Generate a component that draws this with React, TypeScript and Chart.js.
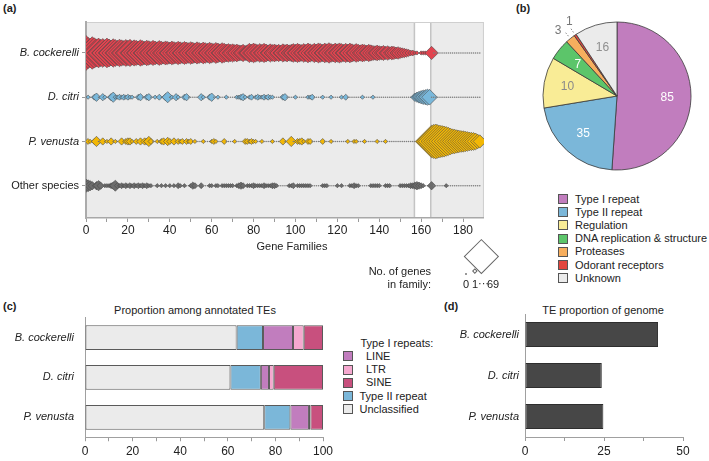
import React, { useEffect, useRef } from 'react';
import { Chart, registerables } from 'chart.js';

Chart.register(...registerables);

const FONT = "'Liberation Sans', Arial, Helvetica, sans-serif";
Chart.defaults.font.family = FONT;
Chart.defaults.color = '#222';

// ---------------- (a) gene families ----------------
const speciesRows = ['B. cockerelli', 'D. citri', 'P. venusta', 'Other species'];
const speciesItalic = [true, true, true, false];
const speciesColors = ['#E2434F', '#79B8DB', '#F2B705', '#6C6C6C'];
const familyTickLabels = [0, 20, 40, 60, 80, 100, 120, 140, 160, 180];
const citriSpecificBand = [156.8, 164.6];
const sizeLegendCounts = [0, 1, 69];

const bCockerelliGenes = [
  69, 55, 48, 60, 52, 45, 50, 42, 47, 40,
  50, 44, 38, 46, 41, 36, 43, 39, 35, 41,
  37, 42, 34, 39, 36, 33, 40, 35, 31, 37,
  34, 30, 36, 32, 29, 35, 31, 28, 33, 30,
  27, 32, 29, 26, 31, 28, 25, 30, 27, 24,
  29, 26, 23, 28, 25, 22, 27, 24, 21, 26,
  23, 20, 25, 22, 19, 24, 21, 18, 20, 17,
  19, 16, 18, 15, 14, 17, 13, 15, 21, 18,
  22, 19, 16, 20, 17, 21, 18, 15, 19, 16,
  18, 15, 17, 14, 19, 16, 18, 15, 17, 20,
  17, 21, 18, 16, 20, 17, 22, 19, 16, 21,
  18, 23, 20, 17, 22, 19, 24, 20, 18, 22,
  19, 23, 20, 17, 21, 18, 22, 19, 16, 20,
  17, 15, 18, 16, 14, 17, 15, 13, 12, 14,
  12, 11, 13, 10, 12, 9, 11, 10, 8, 9,
  7, 6, 5, 4, 3, 2, 2, 1, 1, 0,
  1, 1, 1, 0, 0, 10, 0, 0, 0, 0,
  0, 0, 0, 0, 0, 0, 0, 0, 0, 0,
  0, 0, 0, 0, 0, 0, 0, 0, 0,
];

const dCitriGenes = [
  0, 1, 0, 0, 2, 4, 0, 0, 3, 1,
  0, 0, 3, 6, 1, 1, 2, 1, 2, 1,
  2, 1, 1, 0, 0, 2, 3, 0, 0, 2,
  3, 0, 0, 1, 0, 2, 0, 0, 3, 7,
  0, 1, 0, 3, 1, 0, 0, 2, 3, 0,
  0, 0, 0, 0, 0, 3, 1, 0, 0, 2,
  4, 0, 0, 1, 0, 0, 0, 1, 0, 0,
  0, 0, 1, 1, 2, 3, 1, 0, 1, 2,
  0, 1, 2, 1, 1, 2, 1, 2, 1, 1,
  0, 0, 0, 0, 2, 3, 0, 0, 0, 0,
  1, 0, 0, 0, 0, 0, 1, 1, 2, 0,
  0, 0, 0, 1, 0, 0, 0, 1, 0, 0,
  0, 0, 1, 0, 2, 0, 0, 0, 0, 0,
  0, 0, 1, 0, 0, 0, 0, 1, 0, 0,
  0, 0, 0, 0, 0, 0, 0, 0, 0, 0,
  0, 0, 0, 0, 0, 0, 0, 4, 6, 8,
  10, 12, 13, 15, 14, 0, 0, 0, 0, 0,
  0, 0, 0, 0, 0, 0, 0, 0, 0, 0,
  0, 0, 0, 0, 0, 0, 0, 0, 0,
];

const pVenustaGenes = [
  0, 2, 1, 0, 2, 6, 0, 0, 3, 0,
  1, 0, 3, 0, 1, 0, 0, 3, 0, 2,
  3, 3, 1, 0, 2, 0, 3, 0, 3, 2,
  6, 2, 0, 0, 1, 0, 2, 3, 0, 4,
  2, 0, 3, 0, 2, 1, 2, 0, 2, 1,
  2, 0, 1, 0, 0, 0, 1, 0, 0, 0,
  1, 2, 1, 0, 0, 0, 2, 0, 0, 0,
  0, 1, 0, 0, 0, 0, 2, 2, 1, 2,
  1, 1, 0, 0, 1, 0, 0, 0, 0, 1,
  0, 0, 0, 0, 3, 0, 0, 0, 6, 0,
  0, 2, 2, 3, 1, 0, 2, 2, 0, 0,
  0, 0, 0, 2, 0, 0, 0, 1, 0, 0,
  0, 0, 0, 0, 0, 1, 0, 0, 1, 1,
  0, 0, 0, 1, 0, 0, 0, 0, 0, 1,
  0, 0, 0, 1, 0, 0, 0, 0, 0, 0,
  0, 0, 0, 0, 0, 0, 0, 0, 0, 0,
  0, 0, 0, 0, 0, 60, 66, 69, 64, 60,
  57, 54, 50, 45, 40, 36, 34, 31, 29, 27,
  26, 24, 22, 20, 19, 18, 16, 12, 10,
];

const otherSpeciesGenes = [
  10, 8, 6, 4, 0, 4, 6, 3, 0, 1,
  1, 1, 2, 3, 7, 2, 1, 2, 1, 2,
  1, 2, 1, 2, 1, 2, 1, 2, 1, 2,
  1, 1, 0, 0, 1, 0, 1, 0, 1, 0,
  1, 0, 1, 0, 2, 1, 0, 1, 0, 0,
  1, 3, 2, 0, 0, 2, 0, 0, 0, 1,
  1, 0, 1, 1, 0, 1, 1, 1, 1, 1,
  1, 0, 1, 2, 3, 2, 0, 1, 1, 1,
  2, 1, 1, 1, 1, 2, 1, 1, 1, 2,
  2, 1, 0, 0, 0, 0, 0, 1, 1, 2,
  0, 1, 1, 1, 1, 1, 1, 1, 0, 0,
  0, 0, 0, 1, 1, 1, 0, 0, 0, 0,
  1, 0, 1, 0, 0, 0, 1, 1, 2, 1,
  1, 0, 0, 0, 0, 0, 1, 1, 1, 1,
  1, 0, 0, 1, 1, 1, 0, 0, 0, 0,
  1, 1, 1, 1, 1, 2, 2, 3, 4, 3,
  2, 1, 0, 0, 0, 4, 0, 0, 0, 0,
  0, 0, 1, 0, 0, 0, 0, 0, 0, 0,
  0, 0, 0, 0, 0, 0, 0, 0, 0,
];

const speciesGenes = [bCockerelliGenes, dCitriGenes, pVenustaGenes, otherSpeciesGenes];

// ---------------- (b) pie ----------------
const pieCategories = ['Type I repeat', 'Type II repeat', 'Regulation', 'DNA replication & structure', 'Proteases', 'Odorant receptors', 'Unknown'];
const pieShares = [51.1, 21.3, 11.1, 4.6, 2.1, 0.5, 9.3];
const pieCounts = [85, 35, 10, 7, 3, 1, 16];
const pieColors = ['#C17DBE', '#7BB7D9', '#F9EC96', '#5CC56A', '#F7AE5E', '#E2463E', '#EBEBEB'];
const pieLabelColors = ['#ffffff', '#ffffff', '#8a8a8a', '#ffffff', '#777777', '#777777', '#8f8f8f'];
const pieLabelOutside = [false, false, false, false, true, true, false];
const pieLabelNudgeDeg = [0, 0, 0, 0, -3, 1.5, 0];

// ---------------- (c) TE composition ----------------
const teSpecies = ['B. cockerelli', 'D. citri', 'P. venusta'];
const teClasses = ['Unclassified', 'Type II repeat', 'LINE', 'LTR', 'SINE'];
const unclassifiedPct = [63.7, 61.1, 75.3];
const typeIIPct = [11.1, 12.8, 11.0];
const linePct = [12.6, 3.4, 7.8];
const ltrPct = [4.5, 2.0, 0.6];
const sinePct = [8.1, 20.7, 5.3];
const teValues = [unclassifiedPct, typeIIPct, linePct, ltrPct, sinePct];
const teColors = ['#EBEBEB', '#7BB7D9', '#C17DBE', '#F5A8CF', '#C8507E'];
const pctTickLabels = [0, 20, 40, 60, 80, 100];

// ---------------- (d) genome proportion ----------------
const genomeTEPct = [42.1, 24.3, 24.8];
const genomeTickLabels = [0, 25, 50];

// ------------------------------------------------------
const geneCount = (c: any) => (c && c.raw && typeof c.raw.n === 'number' ? c.raw.n : 0);
const diamondRadius = (n: number) => (n > 0 ? 2.1 * Math.sqrt(n) : 0.8);

const bgPluginA = {
  id: 'bgA',
  beforeDraw(chart: any) {
    const { ctx, chartArea: a, scales } = chart;
    const x = scales.x;
    ctx.save();
    ctx.fillStyle = '#EBEBEB';
    ctx.fillRect(a.left, a.top, a.right - a.left, a.bottom - a.top);
    const x0 = x.getPixelForValue(citriSpecificBand[0]);
    const x1 = x.getPixelForValue(citriSpecificBand[1]);
    ctx.fillStyle = '#FFFFFF';
    ctx.fillRect(x0, a.top, x1 - x0, a.bottom - a.top);
    ctx.strokeStyle = '#C4C4C4';
    ctx.lineWidth = 1.5;
    ctx.beginPath();
    ctx.moveTo(x0, a.top); ctx.lineTo(x0, a.bottom);
    ctx.moveTo(x1, a.top); ctx.lineTo(x1, a.bottom);
    ctx.stroke();
    ctx.lineWidth = 1;
    ctx.strokeStyle = '#CFCFCF';
    ctx.beginPath();
    ctx.moveTo(a.left, a.top + 0.5); ctx.lineTo(a.right, a.top + 0.5);
    ctx.moveTo(a.right - 0.5, a.top); ctx.lineTo(a.right - 0.5, a.bottom);
    ctx.stroke();
    ctx.restore();
  },
};

function makeGeneFamilyChart(): any {
  return {
    type: 'scatter',
    data: {
      datasets: speciesGenes.map((counts, i) => ({
        label: speciesRows[i],
        data: counts.map((n, f) => ({ x: f, y: i, n })),
        pointStyle: (c: any) => (geneCount(c) > 0 ? 'rectRot' : 'circle'),
        pointRadius: (c: any) => diamondRadius(geneCount(c)),
        pointHoverRadius: (c: any) => diamondRadius(geneCount(c)),
        pointBackgroundColor: (c: any) => (geneCount(c) > 0 ? speciesColors[i] : '#7E7E7E'),
        pointBorderColor: (c: any) => (geneCount(c) > 0 ? '#4A4A4A' : '#7E7E7E'),
        pointBorderWidth: (c: any) => (geneCount(c) > 0 ? 0.6 : 0),
        showLine: false,
      })),
    },
    options: {
      responsive: false,
      animation: false,
      devicePixelRatio: 1,
      events: [],
      layout: { padding: { top: 22, right: 3, left: 0, bottom: 0 } },
      plugins: { legend: { display: false }, tooltip: { enabled: false } },
      scales: {
        x: {
          type: 'linear',
          min: 0,
          max: 190,
          afterBuildTicks: (s: any) => {
            s.ticks = s.ticks.filter((t: any) => t.value <= familyTickLabels[familyTickLabels.length - 1]);
          },
          ticks: {
            stepSize: 10,
            autoSkip: false,
            maxRotation: 0,
            padding: 1,
            color: '#222',
            font: { size: 12 },
            callback: (v: any) => (familyTickLabels.includes(v) ? String(v) : ''),
          },
          grid: { drawOnChartArea: false, tickLength: 4, tickColor: '#9A9A9A' },
          border: { color: '#A8A8A8', width: 1.5 },
          afterFit: (s: any) => { s.height = 44; },
        },
        y: {
          type: 'linear',
          reverse: true,
          min: -0.7,
          max: 3.73,
          afterBuildTicks: (s: any) => {
            s.ticks = speciesRows.map((_, i) => ({ value: i }));
          },
          ticks: {
            autoSkip: false,
            padding: 3,
            color: '#222',
            font: (c: any) => ({ size: 11, family: FONT, style: speciesItalic[c.index] ? 'italic' : 'normal' }),
            callback: (v: any) => speciesRows[v] ?? '',
          },
          grid: { drawOnChartArea: false, tickLength: 4, tickColor: '#9A9A9A' },
          border: { color: '#ABABAB', width: 2 },
          afterFit: (s: any) => { s.width = 86; },
        },
      },
    },
    plugins: [bgPluginA],
  };
}

const pieLabelPlugin = {
  id: 'pieLabels',
  afterDatasetsDraw(chart: any) {
    const ctx = chart.ctx;
    const arcs = chart.getDatasetMeta(0).data;
    ctx.save();
    ctx.font = `12px ${FONT}`;
    ctx.textAlign = 'center';
    ctx.textBaseline = 'middle';
    arcs.forEach((arc: any, i: number) => {
      const p = arc.getProps(['x', 'y', 'startAngle', 'endAngle', 'outerRadius'], true);
      const mid = (p.startAngle + p.endAngle) / 2;
      const R = p.outerRadius;
      if (pieLabelOutside[i]) {
        ctx.strokeStyle = '#8A8A8A';
        ctx.lineWidth = 1;
        ctx.setLineDash([1.5, 1.5]);
        ctx.beginPath();
        ctx.moveTo(p.x + Math.cos(mid) * (R + 3), p.y + Math.sin(mid) * (R + 3));
        ctx.lineTo(p.x + Math.cos(mid) * (R + 9), p.y + Math.sin(mid) * (R + 9));
        ctx.stroke();
        ctx.setLineDash([]);
        const la = mid + (pieLabelNudgeDeg[i] * Math.PI) / 180;
        ctx.fillStyle = pieLabelColors[i];
        ctx.fillText(String(pieCounts[i]), p.x + Math.cos(la) * (R + 14), p.y + Math.sin(la) * (R + 14));
      } else {
        ctx.fillStyle = pieLabelColors[i];
        ctx.fillText(String(pieCounts[i]), p.x + Math.cos(mid) * R * 0.68, p.y + Math.sin(mid) * R * 0.68);
      }
    });
    ctx.restore();
  },
};

function makePieChart(): any {
  return {
    type: 'pie',
    data: {
      labels: pieCategories,
      datasets: [{
        data: pieShares,
        backgroundColor: pieColors,
        borderColor: '#3A3A3A',
        borderWidth: 0.8,
        radius: 74,
      }],
    },
    options: {
      responsive: false,
      animation: false,
      devicePixelRatio: 1,
      events: [],
      layout: { padding: { left: 4, top: 2, right: 0, bottom: 0 } },
      plugins: { legend: { display: false }, tooltip: { enabled: false } },
    },
    plugins: [pieLabelPlugin],
  };
}

function makeTEChart(): any {
  return {
    type: 'bar',
    data: {
      labels: teSpecies,
      datasets: teClasses.map((name, k) => ({
        label: name,
        data: teValues[k],
        backgroundColor: teColors[k],
        borderColor: '#5A5A5A',
        borderWidth: 1,
        borderSkipped: false,
        barPercentage: 0.62,
        categoryPercentage: 1,
      })),
    },
    options: {
      indexAxis: 'y',
      responsive: false,
      animation: false,
      devicePixelRatio: 1,
      events: [],
      layout: { padding: { top: 15.75, right: 17, left: 0, bottom: 0 } },
      plugins: { legend: { display: false }, tooltip: { enabled: false } },
      scales: {
        x: {
          stacked: true,
          min: 0,
          max: 100,
          ticks: {
            stepSize: 10,
            autoSkip: false,
            maxRotation: 0,
            padding: 3.5,
            color: '#222',
            font: { size: 12 },
            callback: (v: any) => (pctTickLabels.includes(v) ? String(v) : ''),
          },
          grid: { drawOnChartArea: false, tickLength: 4, tickColor: '#9A9A9A' },
          border: { color: '#A0A0A0', width: 1 },
          afterFit: (s: any) => { s.height = 23.75; },
        },
        y: {
          stacked: true,
          ticks: { padding: 11, color: '#222', font: { size: 11, style: 'italic' } },
          grid: { drawOnChartArea: false, drawTicks: false },
          border: { color: '#A0A0A0', width: 1 },
          afterFit: (s: any) => { s.width = 85; },
        },
      },
    },
  };
}

function makeGenomeChart(): any {
  return {
    type: 'bar',
    data: {
      labels: teSpecies,
      datasets: [{
        label: 'TE proportion of genome',
        data: genomeTEPct,
        backgroundColor: '#474747',
        borderColor: '#2E2E2E',
        borderWidth: 1,
        borderSkipped: false,
        barPercentage: 0.61,
        categoryPercentage: 1,
      }],
    },
    options: {
      indexAxis: 'y',
      responsive: false,
      animation: false,
      devicePixelRatio: 1,
      events: [],
      layout: { padding: { top: 14, right: 26, left: 0, bottom: 0 } },
      plugins: { legend: { display: false }, tooltip: { enabled: false } },
      scales: {
        x: {
          min: 0,
          max: 50,
          ticks: {
            stepSize: 12.5,
            autoSkip: false,
            maxRotation: 0,
            padding: 3.5,
            color: '#222',
            font: { size: 12 },
            callback: (v: any) => (genomeTickLabels.includes(v) ? String(v) : ''),
          },
          grid: { drawOnChartArea: false, tickLength: 4, tickColor: '#9A9A9A' },
          border: { color: '#A0A0A0', width: 1 },
          afterFit: (s: any) => { s.height = 24; },
        },
        y: {
          ticks: { padding: 6, color: '#222', font: { size: 11, style: 'italic' } },
          grid: { drawOnChartArea: false, drawTicks: false },
          border: { color: '#A0A0A0', width: 1 },
          afterFit: (s: any) => { s.width = 85; },
        },
      },
    },
  };
}

function ChartCanvas({ left, top, width, height, make }: any) {
  const ref = useRef<HTMLCanvasElement | null>(null);
  useEffect(() => {
    const chart = new Chart(ref.current as HTMLCanvasElement, make());
    return () => chart.destroy();
  }, []);
  return (
    <canvas
      ref={ref}
      width={width}
      height={height}
      style={{ position: 'absolute', left, top, width, height }}
    />
  );
}

function Txt({ x, y, children, align = 'left', size = 11, bold = false, italic = false, color = '#222' }: any) {
  const tx = align === 'center' ? 'translateX(-50%)' : align === 'right' ? 'translateX(-100%)' : 'none';
  return (
    <div
      style={{
        position: 'absolute', left: x, top: y - size / 2, fontSize: size, lineHeight: `${size}px`,
        fontFamily: FONT, fontWeight: bold ? 700 : 400, fontStyle: italic ? 'italic' : 'normal',
        color, whiteSpace: 'nowrap', transform: tx,
      }}
    >
      {children}
    </div>
  );
}

function Swatch({ x, y, color, size = 10 }: any) {
  return (
    <div
      style={{
        position: 'absolute', left: x, top: y - size / 2, width: size, height: size,
        background: color, border: '1px solid #555', boxSizing: 'border-box',
      }}
    />
  );
}

function Diamond({ cx, cy, half }: any) {
  const side = half * Math.SQRT2;
  return (
    <div
      style={{
        position: 'absolute', left: cx - side / 2, top: cy - side / 2, width: side, height: side,
        transform: 'rotate(45deg)', border: '1px solid #666', background: '#fff', boxSizing: 'border-box',
      }}
    />
  );
}

const teLegend = [
  { label: 'LINE', k: 2, indent: true },
  { label: 'LTR', k: 3, indent: true },
  { label: 'SINE', k: 4, indent: true },
  { label: 'Type II repeat', k: 1, indent: false },
  { label: 'Unclassified', k: 0, indent: false },
];

export default function App() {
  return (
    <div style={{ position: 'fixed', left: 0, top: 0, width: 709, height: 461, background: '#fff', overflow: 'hidden' }}>
      {/* (a) */}
      <Txt x={3} y={8} bold>(a)</Txt>
      <ChartCanvas left={0} top={0} width={502} height={262} make={makeGeneFamilyChart} />
      <Txt x={292} y={246} align="center">Gene Families</Txt>
      <Txt x={431} y={271} align="right">No. of genes</Txt>
      <Txt x={431} y={284} align="right">in family:</Txt>
      <div style={{ position: 'absolute', left: 465.2, top: 273.2, width: 1.6, height: 1.6, borderRadius: 1, background: '#777' }} />
      <Diamond cx={475} cy={270.6} half={2.6} />
      <Diamond cx={481.7} cy={256.6} half={17.5} />
      <Txt x={466} y={284} align="center">{String(sizeLegendCounts[0])}</Txt>
      <Txt x={475} y={284} align="center">{String(sizeLegendCounts[1])}</Txt>
      <Txt x={483.5} y={283} align="center">···</Txt>
      <Txt x={493} y={284} align="center">{String(sizeLegendCounts[2])}</Txt>

      {/* (b) */}
      <Txt x={516} y={8} bold>(b)</Txt>
      <ChartCanvas left={520} top={0} width={190} height={190} make={makePieChart} />
      {pieCategories.map((c, i) => (
        <React.Fragment key={c}>
          <Swatch x={558} y={199 + i * 13.2} color={pieColors[i]} />
          <Txt x={575} y={199 + i * 13.2}>{c}</Txt>
        </React.Fragment>
      ))}

      {/* (c) */}
      <Txt x={3} y={306} bold>(c)</Txt>
      <Txt x={195} y={310} align="center">Proportion among annotated TEs</Txt>
      <ChartCanvas left={0} top={300} width={340} height={161} make={makeTEChart} />
      <Txt x={360.5} y={343}>Type I repeats:</Txt>
      {teLegend.map((it, j) => (
        <React.Fragment key={it.label}>
          <Swatch x={342.5} y={356.3 + j * 13.25} color={teColors[it.k]} />
          <Txt x={it.indent ? 366 : 359.5} y={356.3 + j * 13.25}>{it.label}</Txt>
        </React.Fragment>
      ))}

      {/* (d) */}
      <Txt x={444} y={306} bold>(d)</Txt>
      <Txt x={603} y={310} align="center">TE proportion of genome</Txt>
      <ChartCanvas left={440} top={300} width={269} height={161} make={makeGenomeChart} />
    </div>
  );
}
